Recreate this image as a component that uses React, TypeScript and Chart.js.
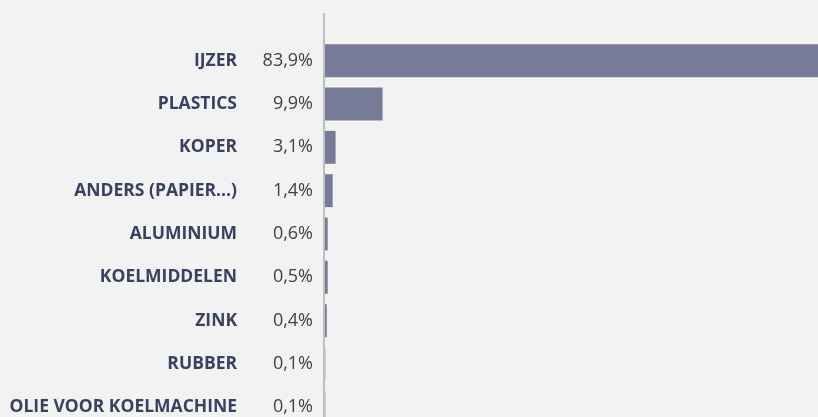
import React, { useEffect, useRef } from "react";
import { Chart, registerables } from "chart.js";

Chart.register(...registerables);

const categories = [
  "IJZER",
  "PLASTICS",
  "KOPER",
  "ANDERS (PAPIER...)",
  "ALUMINIUM",
  "KOELMIDDELEN",
  "ZINK",
  "RUBBER",
  "OLIE VOOR KOELMACHINE",
];

// printed shares (tick labels)
const shareLabels = ["83,9%", "9,9%", "3,1%", "1,4%", "0,6%", "0,5%", "0,4%", "0,1%", "0,1%"];

// bar lengths (in % units)
const barValues = [83.9, 9.8, 1.8, 1.3, 0.46, 0.46, 0.3, 0.05, 0.05];

const xMax = 83.9;

const axisLinePlugin = {
  id: "axisLine",
  beforeDatasetsDraw(chart: any) {
    const { ctx, chartArea, height } = chart;
    ctx.save();
    ctx.fillStyle = "#bfbfbf";
    ctx.fillRect(chartArea.left - 2, 13, 2, height - 13);
    ctx.restore();
  },
};

export default function App() {
  const ref = useRef<HTMLCanvasElement | null>(null);

  useEffect(() => {
    document.body.style.margin = "0";
    document.body.style.background = "#f2f2f2";
    document.body.style.overflow = "hidden";
    const canvas = ref.current;
    if (!canvas) return;
    const chart = new Chart(canvas, {
      type: "bar",
      data: {
        labels: categories,
        datasets: [
          {
            data: barValues,
            backgroundColor: "#777b98",
            borderWidth: 0,
            barPercentage: 0.76,
            categoryPercentage: 1,
            yAxisID: "y",
          },
        ],
      },
      options: {
        indexAxis: "y",
        animation: false,
        responsive: true,
        maintainAspectRatio: false,
        layout: { padding: { top: 39, right: 0, bottom: 0, left: 0 } },
        plugins: {
          legend: { display: false },
          tooltip: { enabled: false },
        },
        scales: {
          x: {
            display: false,
            min: 0,
            max: xMax,
          },
          y: {
            type: "category",
            position: "left",
            weight: 0,
            offset: true,
            grid: { display: false, drawTicks: false },
            border: { display: false },
            ticks: {
              autoSkip: false,
              padding: 12,
              color: "#404040",
              font: { family: "'Open Sans'", size: 18, weight: "normal" },
              callback: (_v: any, i: number) => shareLabels[i],
            },
            afterFit: (s: any) => {
              s.width = 70;
              s.paddingTop = 0;
              s.paddingBottom = 0;
            },
          },
          yNames: {
            type: "category",
            position: "left",
            weight: 1,
            offset: true,
            grid: { display: false, drawTicks: false },
            border: { display: false },
            ticks: {
              autoSkip: false,
              padding: 18,
              color: "#3a4160",
              font: { family: "'Open Sans'", size: 17.5, weight: "bold" },
            },
            afterFit: (s: any) => {
              s.width = 255;
              s.paddingTop = 0;
              s.paddingBottom = 0;
            },
          },
        },
      } as any,
      plugins: [axisLinePlugin],
    });
    return () => chart.destroy();
  }, []);

  return (
    <div style={{ width: 818, height: 417, overflow: "hidden", background: "#f2f2f2" }}>
      <div style={{ position: "relative", width: 818, height: 429 }}>
        <canvas ref={ref} style={{ display: "block" }} />
      </div>
    </div>
  );
}
